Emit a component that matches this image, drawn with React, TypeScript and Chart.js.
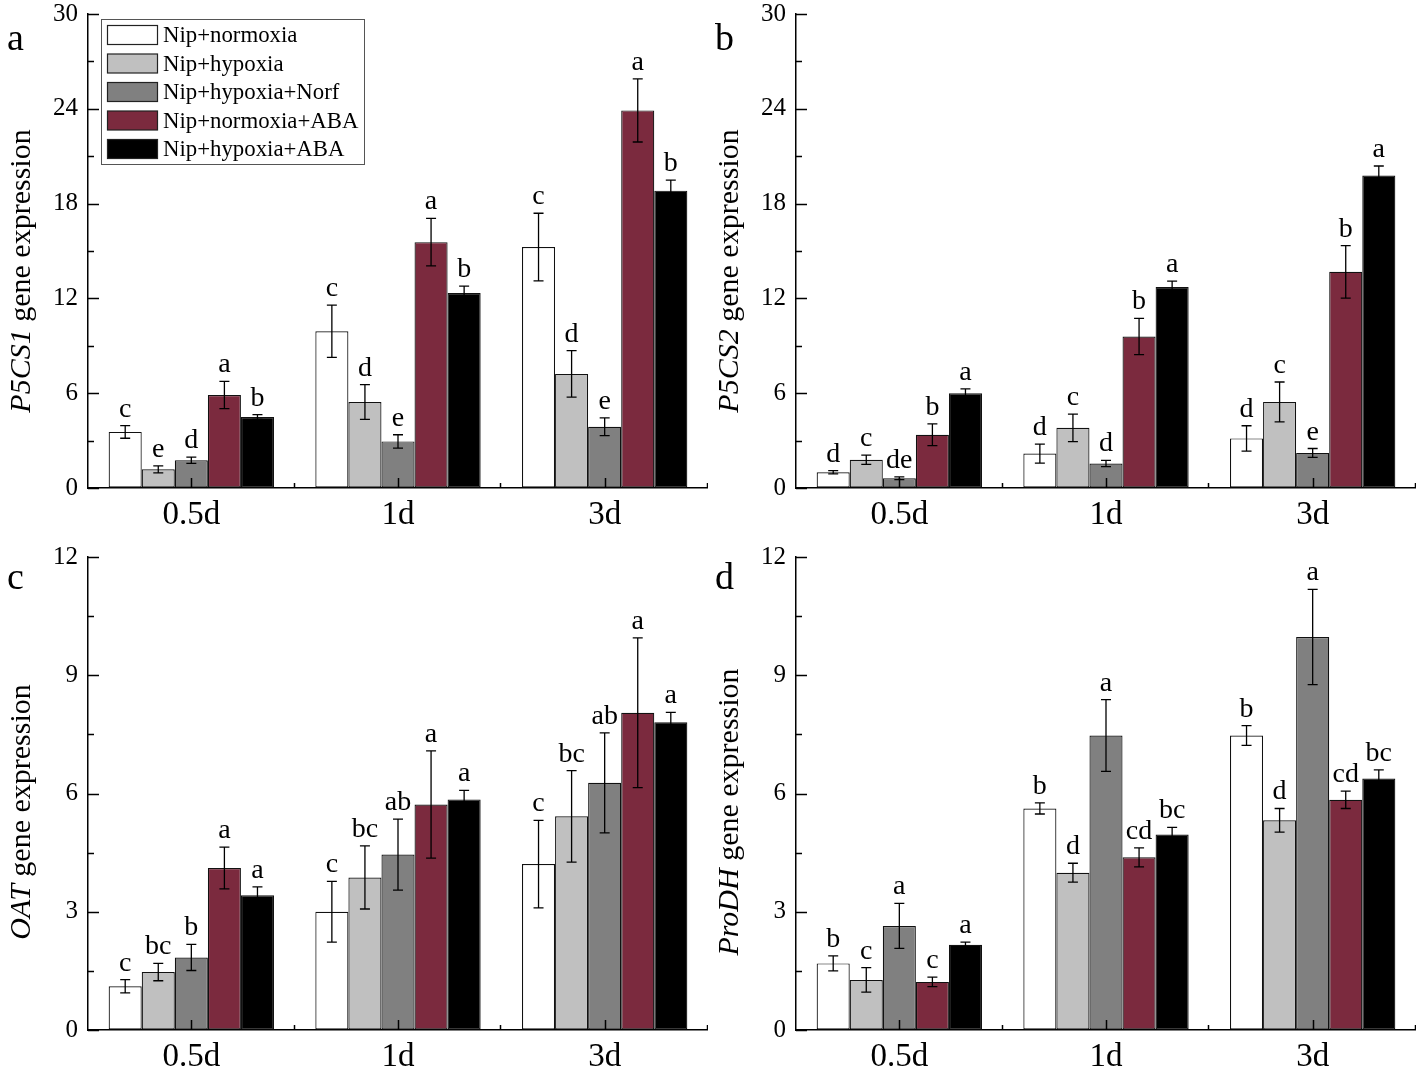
import React, { useEffect, useRef } from "react";
import { Chart, registerables } from "chart.js";

Chart.register(...registerables);

const SERIF = '"Liberation Serif", "Times New Roman", serif';

const CATEGORIES = ["0.5d", "1d", "3d"];
const SERIES_LABELS = [
  "Nip+normoxia",
  "Nip+hypoxia",
  "Nip+hypoxia+Norf",
  "Nip+normoxia+ABA",
  "Nip+hypoxia+ABA",
];
const SERIES_COLORS = ["#ffffff", "#c0c0c0", "#808080", "#7b2a3e", "#000000"];

// rows = series (in legend order), columns = 0.5d, 1d, 3d
const P5CS1_MEAN = [
  [3.55, 9.92, 15.25],
  [1.18, 5.44, 7.22],
  [1.76, 2.95, 3.88],
  [5.89, 15.56, 23.9],
  [4.49, 12.34, 18.82],
];
const P5CS1_ERR = [
  [0.4, 1.65, 2.14],
  [0.22, 1.1, 1.47],
  [0.2, 0.42, 0.56],
  [0.86, 1.5, 2.0],
  [0.15, 0.44, 0.67],
];
const P5CS1_LETTERS = [
  ["c", "c", "c"],
  ["e", "d", "d"],
  ["d", "e", "e"],
  ["a", "a", "a"],
  ["b", "b", "b"],
];

const P5CS2_MEAN = [
  [1.0, 2.18, 3.14],
  [1.79, 3.81, 5.45],
  [0.62, 1.55, 2.22],
  [3.37, 9.59, 13.68],
  [5.99, 12.72, 19.78],
];
const P5CS2_ERR = [
  [0.1, 0.6, 0.8],
  [0.29, 0.87, 1.26],
  [0.09, 0.2, 0.28],
  [0.69, 1.15, 1.66],
  [0.28, 0.37, 0.6],
];
const P5CS2_LETTERS = [
  ["d", "d", "d"],
  ["c", "c", "c"],
  ["de", "d", "e"],
  ["b", "b", "b"],
  ["a", "a", "a"],
];

const OAT_MEAN = [
  [1.11, 3.0, 4.21],
  [1.47, 3.87, 5.42],
  [1.84, 4.45, 6.27],
  [4.11, 5.72, 8.05],
  [3.42, 5.85, 7.81],
];
const OAT_ERR = [
  [0.17, 0.77, 1.11],
  [0.22, 0.8, 1.16],
  [0.33, 0.9, 1.27],
  [0.53, 1.36, 1.9],
  [0.21, 0.23, 0.25],
];
const OAT_LETTERS = [
  ["c", "c", "c"],
  ["bc", "bc", "bc"],
  ["b", "ab", "ab"],
  ["a", "a", "a"],
  ["a", "a", "a"],
];

const PRODH_MEAN = [
  [1.69, 5.62, 7.47],
  [1.27, 3.99, 5.32],
  [2.64, 7.47, 9.97],
  [1.22, 4.38, 5.84],
  [2.16, 4.96, 6.38],
];
const PRODH_ERR = [
  [0.19, 0.14, 0.25],
  [0.31, 0.24, 0.3],
  [0.57, 0.91, 1.21],
  [0.12, 0.24, 0.22],
  [0.07, 0.18, 0.22],
];
const PRODH_LETTERS = [
  ["b", "b", "b"],
  ["c", "d", "d"],
  ["a", "a", "a"],
  ["c", "cd", "cd"],
  ["a", "bc", "bc"],
];

type PanelSpec = {
  tag: string;
  gene: string;
  mean: number[][];
  err: number[][];
  letters: string[][];
  yMax: number;
  yStep: number;
  legend: boolean;
  left: number;
  top: number;
  width: number;
  height: number;
  areaTop: number;
  areaBottom: number;
  titleY: number;
  tagY: number;
};

const PANELS: PanelSpec[] = [
  {
    tag: "a", gene: "P5CS1", mean: P5CS1_MEAN, err: P5CS1_ERR, letters: P5CS1_LETTERS,
    yMax: 30, yStep: 6, legend: true,
    left: 0, top: 0, width: 708, height: 540, areaTop: 14, areaBottom: 488, titleY: 271, tagY: 50,
  },
  {
    tag: "b", gene: "P5CS2", mean: P5CS2_MEAN, err: P5CS2_ERR, letters: P5CS2_LETTERS,
    yMax: 30, yStep: 6, legend: false,
    left: 708, top: 0, width: 708, height: 540, areaTop: 14, areaBottom: 488, titleY: 271, tagY: 50,
  },
  {
    tag: "c", gene: "OAT", mean: OAT_MEAN, err: OAT_ERR, letters: OAT_LETTERS,
    yMax: 12, yStep: 3, legend: false,
    left: 0, top: 540, width: 708, height: 531, areaTop: 17, areaBottom: 490, titleY: 272, tagY: 49,
  },
  {
    tag: "d", gene: "ProDH", mean: PRODH_MEAN, err: PRODH_ERR, letters: PRODH_LETTERS,
    yMax: 12, yStep: 3, legend: false,
    left: 708, top: 540, width: 708, height: 531, areaTop: 17, areaBottom: 490, titleY: 272, tagY: 49,
  },
];

function makePlugin(p: PanelSpec) {
  return {
    id: "annot_" + p.tag,
    afterDatasetsDraw(chart: any) {
      const ctx: CanvasRenderingContext2D = chart.ctx;
      const ys = chart.scales.y;
      const xs = chart.scales.x;
      const area = chart.chartArea;
      ctx.save();

      // error bars + significance letters
      ctx.strokeStyle = "#000";
      ctx.lineWidth = 1.3;
      p.mean.forEach((row, i) => {
        const meta = chart.getDatasetMeta(i);
        row.forEach((v, j) => {
          const bar = meta.data[j];
          const bx = bar.x;
          const e = p.err[i][j];
          const top = ys.getPixelForValue(v + e);
          const bot = ys.getPixelForValue(v - e);
          ctx.beginPath();
          ctx.moveTo(bx, top);
          ctx.lineTo(bx, bot);
          ctx.moveTo(bx - 5, top);
          ctx.lineTo(bx + 5, top);
          ctx.moveTo(bx - 5, bot);
          ctx.lineTo(bx + 5, bot);
          ctx.stroke();
          ctx.fillStyle = "#000";
          ctx.font = `28px ${SERIF}`;
          ctx.textAlign = "center";
          ctx.textBaseline = "alphabetic";
          ctx.fillText(p.letters[i][j], bx, top - 9);
        });
      });

      // inward ticks on y axis
      ctx.lineWidth = 1.5;
      ctx.beginPath();
      const half = p.yStep / 2;
      for (let k = 0; k * half <= p.yMax + 1e-9; k++) {
        const v = k * half;
        const py = Math.round(ys.getPixelForValue(v)) + 0.5;
        const len = k % 2 === 0 ? 11 : 6;
        ctx.moveTo(area.left, py);
        ctx.lineTo(area.left + len, py);
      }
      // inward ticks on x axis: major at category centres, minor at boundaries
      for (let j = 0; j < CATEGORIES.length; j++) {
        const cx = Math.round(xs.getPixelForValue(j)) + 0.5;
        ctx.moveTo(cx, area.bottom);
        ctx.lineTo(cx, area.bottom - 10);
        const bxp = Math.round(xs.getPixelForValue(j + 0.5)) - 0.5;
        ctx.moveTo(bxp, area.bottom);
        ctx.lineTo(bxp, area.bottom - 5);
      }
      ctx.stroke();

      // legend
      if (p.legend) {
        ctx.fillStyle = "#fff";
        ctx.fillRect(101.5, 19.5, 263, 145);
        ctx.strokeStyle = "#555";
        ctx.lineWidth = 1;
        ctx.strokeRect(101.5, 19.5, 263, 145);
        SERIES_LABELS.forEach((lab, i) => {
          const sy = 25 + i * 28.5;
          ctx.fillStyle = SERIES_COLORS[i];
          ctx.fillRect(107.5, sy + 0.5, 50, 19);
          ctx.strokeStyle = "#222";
          ctx.lineWidth = 1.2;
          ctx.strokeRect(107.5, sy + 0.5, 50, 19);
          ctx.fillStyle = "#000";
          ctx.font = `22.8px ${SERIF}`;
          ctx.textAlign = "left";
          ctx.textBaseline = "alphabetic";
          ctx.fillText(lab, 163, sy + 17);
        });
      }

      // panel tag
      ctx.fillStyle = "#000";
      ctx.font = `38px ${SERIF}`;
      ctx.textAlign = "left";
      ctx.textBaseline = "alphabetic";
      ctx.fillText(p.tag, 7, p.tagY);

      // y axis title (gene name in italics)
      ctx.save();
      ctx.translate(22, p.titleY);
      ctx.rotate(-Math.PI / 2);
      const it = `italic 30px ${SERIF}`;
      const nm = `30px ${SERIF}`;
      const rest = " gene expression";
      ctx.font = it;
      const w1 = ctx.measureText(p.gene).width;
      ctx.font = nm;
      const w2 = ctx.measureText(rest).width;
      const sx = -(w1 + w2) / 2;
      ctx.textAlign = "left";
      ctx.textBaseline = "middle";
      ctx.font = it;
      ctx.fillText(p.gene, sx, 0);
      ctx.font = nm;
      ctx.fillText(rest, sx + w1, 0);
      ctx.restore();

      ctx.restore();
    },
  };
}

function Panel({ spec }: { spec: PanelSpec }) {
  const ref = useRef<HTMLCanvasElement>(null);
  useEffect(() => {
    const canvas = ref.current!;
    const chart = new Chart(canvas, {
      type: "bar",
      data: {
        labels: CATEGORIES,
        datasets: SERIES_LABELS.map((lab, i) => ({
          label: lab,
          data: spec.mean[i],
          backgroundColor: SERIES_COLORS[i],
          borderColor: "#111",
          borderWidth: 1.2,
          borderSkipped: false,
          categoryPercentage: 0.8,
          barPercentage: 1.0,
        })),
      },
      options: {
        responsive: false,
        animation: false,
        devicePixelRatio: 1,
        layout: { padding: { top: spec.areaTop, left: 0, right: 0, bottom: 0 } },
        plugins: { legend: { display: false }, tooltip: { enabled: false } },
        scales: {
          x: {
            grid: { display: true, drawOnChartArea: false, drawTicks: false },
            border: { display: true, color: "#000", width: 1.5 },
            ticks: { color: "#000", font: { family: SERIF, size: 33 }, padding: 8 },
            afterFit: (s: any) => {
              s.height = spec.height - spec.areaBottom;
              s.paddingLeft = 0;
              s.paddingRight = 0;
              s.paddingTop = 0;
              s.paddingBottom = 0;
            },
          },
          y: {
            min: 0,
            max: spec.yMax,
            grid: { display: true, drawOnChartArea: false, drawTicks: false },
            border: { display: true, color: "#000", width: 1.5 },
            ticks: {
              stepSize: spec.yStep,
              color: "#000",
              font: { family: SERIF, size: 25 },
              padding: 10,
            },
            afterFit: (s: any) => {
              s.width = 88;
              s.paddingTop = 0;
              s.paddingBottom = 0;
              s.paddingLeft = 0;
              s.paddingRight = 0;
            },
          },
        },
      } as any,
      plugins: [makePlugin(spec)],
    });
    return () => chart.destroy();
  }, [spec]);
  return (
    <canvas
      ref={ref}
      width={spec.width}
      height={spec.height}
      style={{
        position: "absolute",
        left: spec.left,
        top: spec.top,
        width: spec.width,
        height: spec.height,
      }}
    />
  );
}

export default function App() {
  return (
    <div
      style={{
        position: "absolute",
        left: 0,
        top: 0,
        width: 1418,
        height: 1071,
        background: "#ffffff",
        overflow: "hidden",
      }}
    >
      {PANELS.map((p) => (
        <Panel key={p.tag} spec={p} />
      ))}
    </div>
  );
}
